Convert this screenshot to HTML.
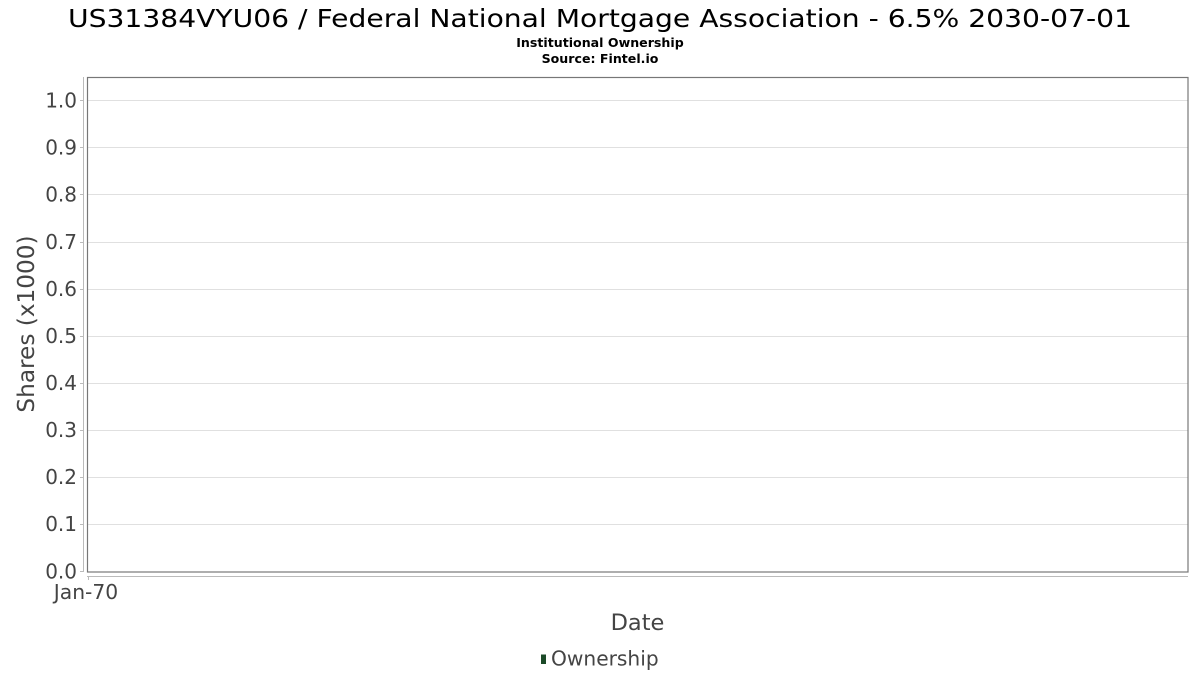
<!DOCTYPE html>
<html><head><meta charset="utf-8"><style>
html,body{margin:0;padding:0;background:#fff;}
svg{display:block;font-family:"DejaVu Sans","Liberation Sans",sans-serif;}
</style></head><body>
<svg width="1200" height="675" viewBox="0 0 1200 675" xmlns="http://www.w3.org/2000/svg">
<rect width="1200" height="675" fill="#fff"/>
<text x="600" y="27" font-size="24.5" text-anchor="middle" fill="#000" textLength="1064" lengthAdjust="spacingAndGlyphs">US31384VYU06 / Federal National Mortgage Association - 6.5% 2030-07-01</text>
<text x="600" y="47" font-size="12.6" font-weight="bold" text-anchor="middle" fill="#000">Institutional Ownership</text>
<text x="600" y="63" font-size="12.6" font-weight="bold" text-anchor="middle" fill="#000">Source: Fintel.io</text>
<g stroke="#e0e0e0" stroke-width="1">
<line x1="88" y1="100.5" x2="1188" y2="100.5"/>
<line x1="88" y1="147.5" x2="1188" y2="147.5"/>
<line x1="88" y1="194.5" x2="1188" y2="194.5"/>
<line x1="88" y1="242.5" x2="1188" y2="242.5"/>
<line x1="88" y1="289.5" x2="1188" y2="289.5"/>
<line x1="88" y1="336.5" x2="1188" y2="336.5"/>
<line x1="88" y1="383.5" x2="1188" y2="383.5"/>
<line x1="88" y1="430.5" x2="1188" y2="430.5"/>
<line x1="88" y1="477.5" x2="1188" y2="477.5"/>
<line x1="88" y1="524.5" x2="1188" y2="524.5"/>
</g>
<rect x="87.5" y="77.5" width="1100.5" height="494.5" fill="none" stroke="#777" stroke-width="1.2"/>
<g stroke="#bbb" stroke-width="1">
<line x1="83.5" y1="77" x2="83.5" y2="572"/>
<line x1="87" y1="576.5" x2="1188" y2="576.5"/>
<line x1="88.5" y1="576" x2="88.5" y2="580"/>
<line x1="80" y1="100.5" x2="83" y2="100.5"/>
<line x1="80" y1="147.5" x2="83" y2="147.5"/>
<line x1="80" y1="194.5" x2="83" y2="194.5"/>
<line x1="80" y1="242.5" x2="83" y2="242.5"/>
<line x1="80" y1="289.5" x2="83" y2="289.5"/>
<line x1="80" y1="336.5" x2="83" y2="336.5"/>
<line x1="80" y1="383.5" x2="83" y2="383.5"/>
<line x1="80" y1="430.5" x2="83" y2="430.5"/>
<line x1="80" y1="477.5" x2="83" y2="477.5"/>
<line x1="80" y1="524.5" x2="83" y2="524.5"/>
<line x1="80" y1="571.5" x2="83" y2="571.5"/>
</g>
<g font-size="20" fill="#444" text-anchor="end">
<text x="77" y="107.5">1.0</text>
<text x="77" y="154.5">0.9</text>
<text x="77" y="201.5">0.8</text>
<text x="77" y="249">0.7</text>
<text x="77" y="296">0.6</text>
<text x="77" y="343">0.5</text>
<text x="77" y="390">0.4</text>
<text x="77" y="437">0.3</text>
<text x="77" y="484">0.2</text>
<text x="77" y="531">0.1</text>
<text x="77" y="578.5">0.0</text>
</g>
<text x="86" y="599" font-size="20.3" fill="#444" text-anchor="middle">Jan-70</text>
<text x="637.5" y="630" font-size="22.5" fill="#444" text-anchor="middle">Date</text>
<text transform="translate(34,324) rotate(-90)" font-size="23.2" fill="#444" text-anchor="middle">Shares (x1000)</text>
<rect x="541" y="654.5" width="5" height="9.5" fill="#1b4a28"/>
<text x="551" y="665.5" font-size="20.2" fill="#444">Ownership</text>
</svg>
</body></html>
